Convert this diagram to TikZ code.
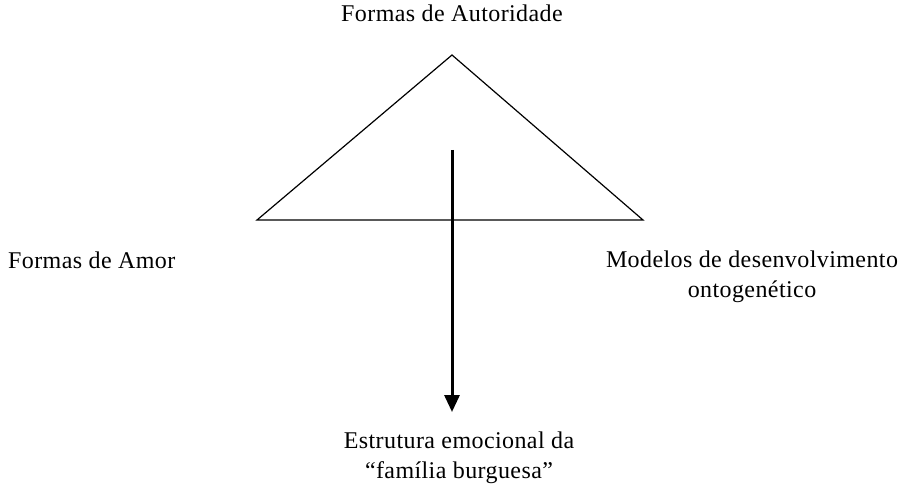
\documentclass[tikz,border=0pt]{standalone}
\usepackage{fontspec}
\setmainfont{Liberation Serif}[LetterSpace=1.7]
\usetikzlibrary{arrows.meta}

\begin{document}
\begin{tikzpicture}[x=1pt,y=-1pt]
\useasboundingbox (0,0) rectangle (905,492);

\coordinate (V1) at (452, 55);
\coordinate (V2) at (257, 220);
\coordinate (V3) at (643, 220);
\coordinate (A1) at (452, 150);
\coordinate (A2) at (452, 412);

\tikzset{LabelStyle/.style = {
 font = \fontsize{24}{30}\selectfont,
 inner sep = 0pt,
 align = center} }

\draw[line width=1.2pt, line join=miter] (V1) -- (V2) -- (V3) -- cycle;

\tikzset{ArrowStyle/.style = {line width=3pt, -{Triangle[width=15pt,length=17pt]}} }

\draw[ArrowStyle] (A1) -- (A2);

\node[LabelStyle, anchor=base] (L1) at (452, 22) {Formas de Autoridade};
\node[LabelStyle, anchor=base west] (L2) at (8, 268) {Formas de Amor};
\node[LabelStyle, anchor=base] (L3) at (752, 297) {Modelos de desenvolvimento\\ontogenético};
\node[LabelStyle, anchor=base] (L4) at (459, 478) {Estrutura emocional da\\“família burguesa”};

\end{tikzpicture}
\end{document}
